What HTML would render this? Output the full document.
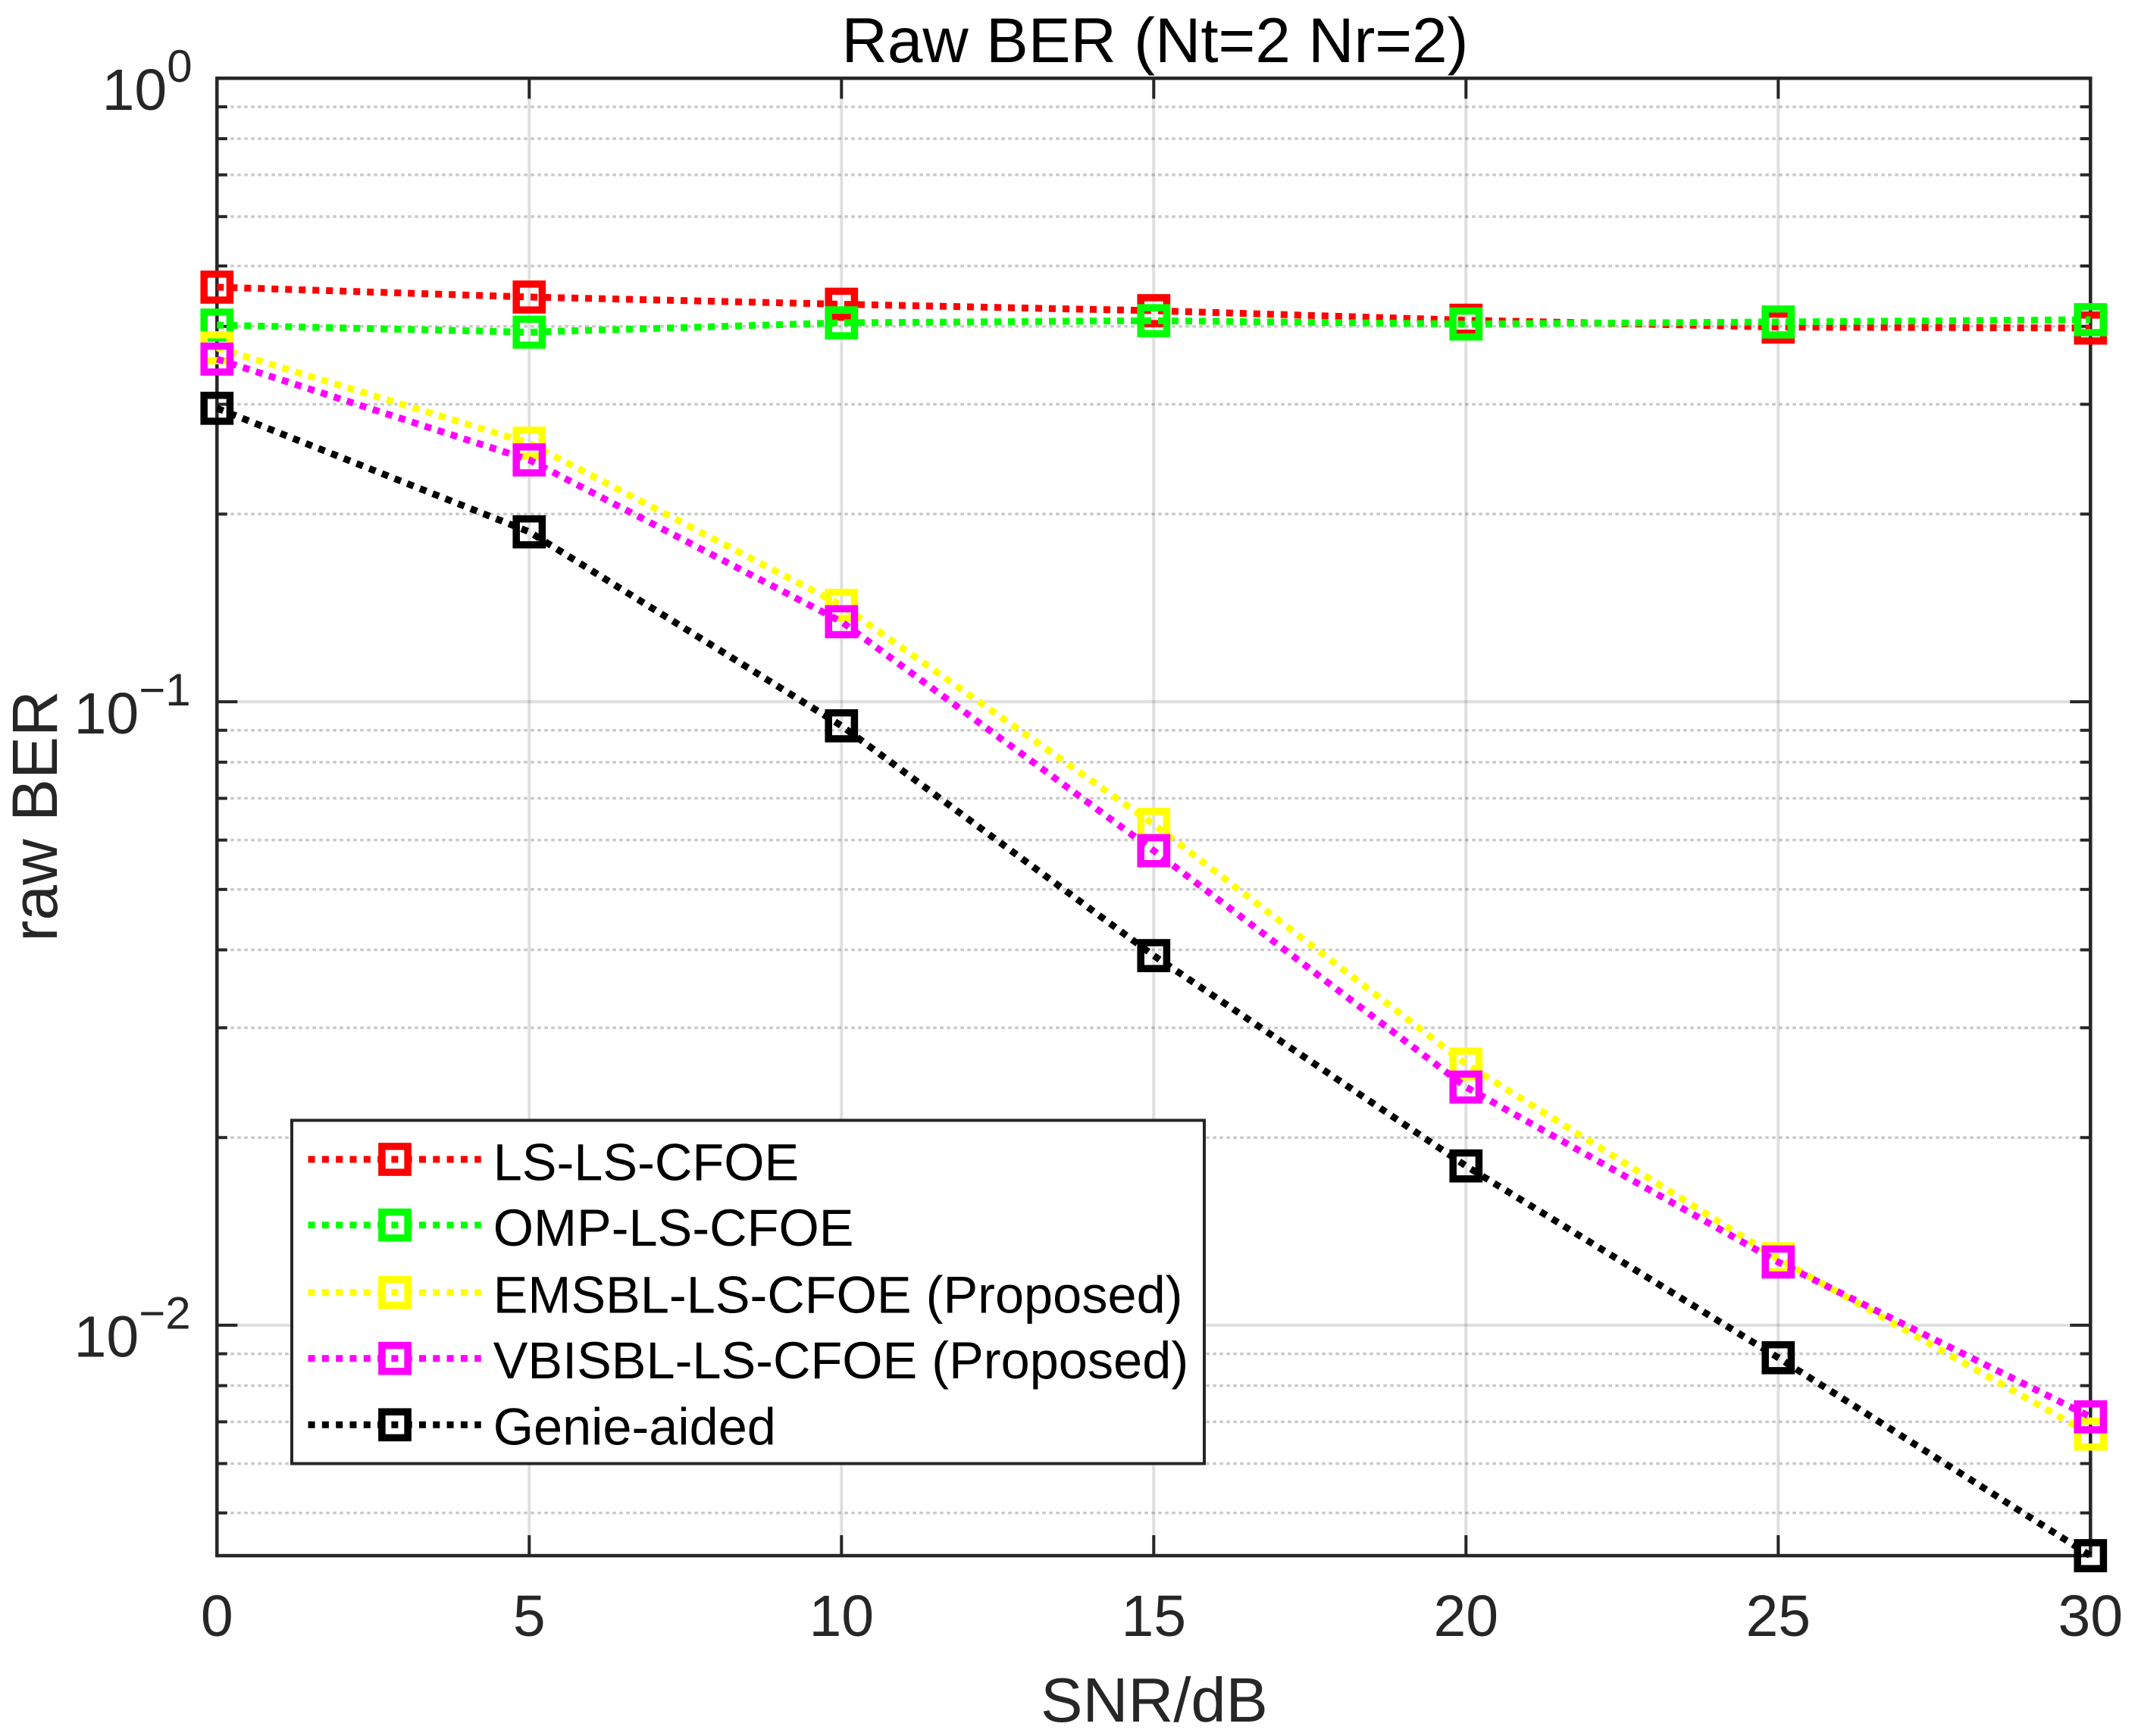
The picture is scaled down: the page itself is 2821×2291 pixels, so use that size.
<!DOCTYPE html>
<html lang="en">
<head>
<meta charset="utf-8">
<title>Raw BER (Nt=2 Nr=2)</title>
<style>
html,body{margin:0;padding:0;background:#fff;}
svg{display:block;}
text{font-family:"Liberation Sans",Arial,sans-serif;}
</style>
</head>
<body>
<svg id="chart" xmlns="http://www.w3.org/2000/svg" width="2821" height="2291" viewBox="0 0 2821 2291">
  <rect x="0" y="0" width="2821" height="2291" fill="#ffffff"/>
  <g id="grid"></g>
  <g id="axes"></g>
  <g id="series"></g>
  <text x="1524" y="82" font-size="83.6" text-anchor="middle" fill="#000000">Raw BER (Nt=2 Nr=2)</text>
  <text x="1523" y="2272" font-size="83" text-anchor="middle" fill="#262626">SNR/dB</text>
  <text transform="translate(75,1077) rotate(-90)" font-size="84" text-anchor="middle" fill="#262626">raw BER</text>
  <g id="legend">
    <rect x="385" y="1478.5" width="1204" height="453" fill="#ffffff" stroke="#262626" stroke-width="4"/>
  </g>
</svg>
<script>
// Chart data
var snrValues = [0, 5, 10, 15, 20, 25, 30];
var lsLsCfoe = [0.4624, 0.4458, 0.4341, 0.4239, 0.4092, 0.3990, 0.3976];
var ompLsCfoe = [0.4019, 0.3915, 0.4053, 0.4085, 0.4035, 0.4066, 0.4100];
var emsblLsCfoe = [0.3696, 0.2599, 0.1428, 0.0636, 0.02624, 0.01278, 0.00669];
var vbisblLsCfoe = [0.3545, 0.2443, 0.1344, 0.0577, 0.02410, 0.01263, 0.00713];
var genieAided = [0.2956, 0.1873, 0.0915, 0.03916, 0.01801, 0.00887, 0.00427];
var seriesNames = ['LS-LS-CFOE', 'OMP-LS-CFOE', 'EMSBL-LS-CFOE (Proposed)', 'VBISBL-LS-CFOE (Proposed)', 'Genie-aided'];
var xTickValues = [0, 5, 10, 15, 20, 25, 30];
var yDecades = [0, -1, -2];
var yMinorDigits = [2, 3, 4, 5, 6, 7, 8, 9];
var xLimits = [0, 30];
var yLimits = [0.00427, 1];

var NS = 'http://www.w3.org/2000/svg';
var plot = {left: 286.3, right: 2758.3, top: 103.3, bottom: 2053};
var ink = '#262626';
var seriesValues = [lsLsCfoe, ompLsCfoe, emsblLsCfoe, vbisblLsCfoe, genieAided];
var seriesColors = ['#ff0000', '#00ff00', '#ffff00', '#ff00ff', '#000000'];
var seriesSlugs = ['ls-ls-cfoe', 'omp-ls-cfoe', 'emsbl-ls-cfoe', 'vbisbl-ls-cfoe', 'genie-aided'];

function xScale(v) {
  return plot.left + (v - xLimits[0]) / (xLimits[1] - xLimits[0]) * (plot.right - plot.left);
}
function yScale(v) {
  var lo = Math.log10(yLimits[0]), hi = Math.log10(yLimits[1]);
  return plot.bottom - (Math.log10(v) - lo) / (hi - lo) * (plot.bottom - plot.top);
}
function make(tag, attrs, parent) {
  var el = document.createElementNS(NS, tag);
  for (var k in attrs) { el.setAttribute(k, attrs[k]); }
  parent.appendChild(el);
  return el;
}

var gridG = document.getElementById('grid');
var axesG = document.getElementById('axes');
var seriesG = document.getElementById('series');
var legendG = document.getElementById('legend');

// Vertical major grid lines and x ticks
xTickValues.forEach(function (t) {
  var x = xScale(t);
  var g = make('line', {x1: x, x2: x, y1: plot.top, y2: plot.bottom, stroke: ink, 'stroke-opacity': 0.15, 'stroke-width': 4}, gridG);
  
  
  var t1 = make('line', {x1: x, x2: x, y1: plot.bottom, y2: plot.bottom - 27, stroke: ink, 'stroke-width': 4}, axesG);
  
  
  var t2 = make('line', {x1: x, x2: x, y1: plot.top, y2: plot.top + 27, stroke: ink, 'stroke-width': 4}, axesG);
  
  
  var lab = make('text', {x: x, y: 2159, 'font-size': 77, 'text-anchor': 'middle', fill: ink}, axesG);
  
  
  lab.textContent = String(t);
});

// Horizontal major grid lines, y ticks and labels
yDecades.forEach(function (d) {
  var y = yScale(Math.pow(10, d));
  if (d !== 0) {
    var g = make('line', {x1: plot.left, x2: plot.right, y1: y, y2: y, stroke: ink, 'stroke-opacity': 0.15, 'stroke-width': 4}, gridG);
    
    
  }
  var t1 = make('line', {x1: plot.left, x2: plot.left + 27, y1: y, y2: y, stroke: ink, 'stroke-width': 4}, axesG);
  
  
  var t2 = make('line', {x1: plot.right, x2: plot.right - 27, y1: y, y2: y, stroke: ink, 'stroke-width': 4}, axesG);
  
  
  var lab = make('text', {x: d === 0 ? 134.6 : 97.6, y: y + 41.7, 'font-size': 77, 'text-anchor': 'start', fill: ink}, axesG);
  
  
  lab.appendChild(document.createTextNode('10'));
  var sup = make('tspan', {dy: -37, 'font-size': 60}, lab);
  sup.textContent = d === 0 ? '0' : '\u2212' + Math.abs(d);

  // Minor grid lines and ticks
  yMinorDigits.forEach(function (m) {
    var v = m * Math.pow(10, d - 1);
    if (v < yLimits[0] || v > yLimits[1]) { return; }
    var my = yScale(v);
    var mg = make('line', {x1: plot.left, x2: plot.right, y1: my, y2: my, stroke: ink, 'stroke-opacity': 0.25, 'stroke-width': 3.5, 'stroke-dasharray': '4.5 4.5'}, gridG);
    
    
    var mt1 = make('line', {x1: plot.left, x2: plot.left + 13.5, y1: my, y2: my, stroke: ink, 'stroke-width': 4}, axesG);
    
    
    var mt2 = make('line', {x1: plot.right, x2: plot.right - 13.5, y1: my, y2: my, stroke: ink, 'stroke-width': 4}, axesG);
    
    
  });
});

// Axes frame
var frame = make('rect', {x: plot.left, y: plot.top, width: plot.right - plot.left, height: plot.bottom - plot.top, fill: 'none', stroke: ink, 'stroke-width': 4.5}, axesG);



// Series
var MARKER = 34.2;
var MARKER_STROKE = 9.5;
seriesValues.forEach(function (vals, i) {
  var g = make('g', {}, seriesG);
  
  
  var pts = vals.map(function (v, j) { return xScale(snrValues[j]).toFixed(2) + ',' + yScale(v).toFixed(2); }).join(' ');
  var line = make('polyline', {points: pts, fill: 'none', stroke: seriesColors[i], 'stroke-width': 9, 'stroke-dasharray': '9 9'}, g);
  
  
  vals.forEach(function (v, j) {
    var cx = xScale(snrValues[j]), cy = yScale(v);
    var m = make('rect', {x: cx - MARKER / 2, y: cy - MARKER / 2, width: MARKER, height: MARKER, fill: 'none', stroke: seriesColors[i], 'stroke-width': MARKER_STROKE}, g);
    
    
  });
});

// Legend entries
var legendLineY = [1530, 1616.7, 1705.7, 1792.7, 1880.3];
var legendTextY = [1557.7, 1644, 1732.7, 1819, 1906.7];
seriesNames.forEach(function (name, i) {
  var g = make('g', {}, legendG);
  
  
  var ln = make('line', {x1: 406.6, x2: 634.7, y1: legendLineY[i], y2: legendLineY[i], stroke: seriesColors[i], 'stroke-width': 9, 'stroke-dasharray': '9 9.3'}, g);
  
  
  var mk = make('rect', {x: 521 - MARKER / 2, y: legendLineY[i] - MARKER / 2, width: MARKER, height: MARKER, fill: 'none', stroke: seriesColors[i], 'stroke-width': MARKER_STROKE}, g);
  
  
  var tx = make('text', {x: 650.7, y: legendTextY[i], 'font-size': 68.5, fill: '#000000'}, g);
  
  
  tx.textContent = name;
});
</script>
</body>
</html>
